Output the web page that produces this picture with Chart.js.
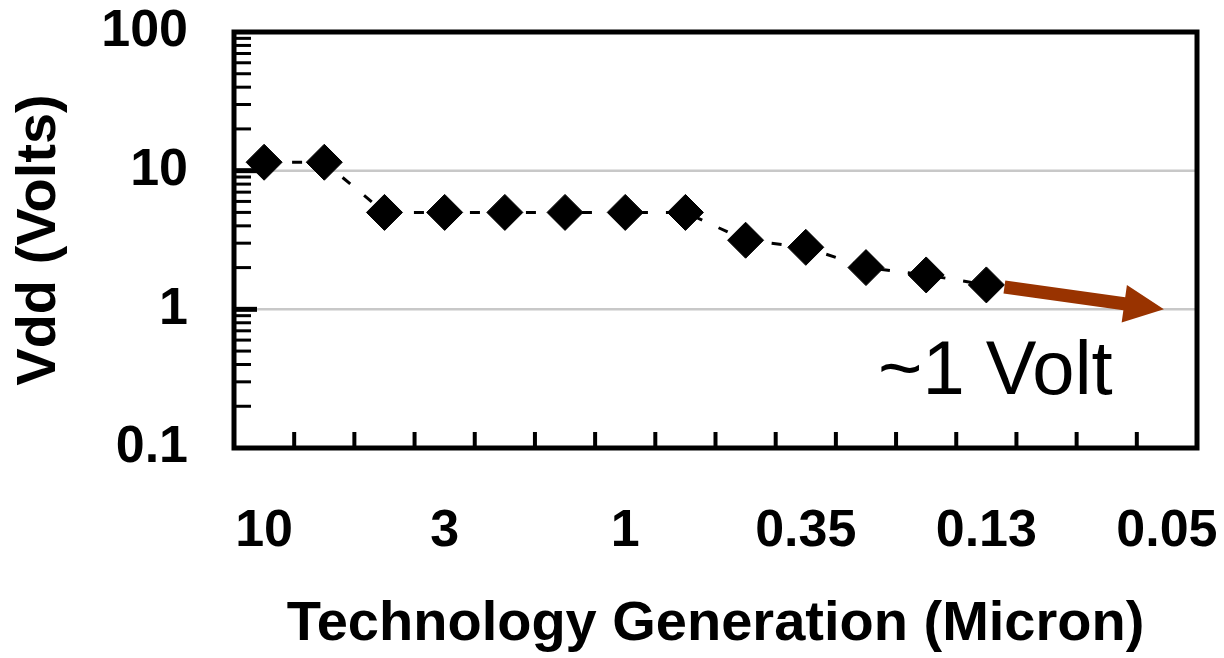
<!DOCTYPE html>
<html><head><meta charset="utf-8">
<script src="https://cdn.jsdelivr.net/npm/chart.js@4.4.1/dist/chart.umd.min.js"></script>
<style>html,body{margin:0;padding:0;background:#fff}</style>
</head><body>
<canvas id="c" width="1224" height="658"></canvas>
<script>
// Technology generation categories (only every third one is labelled on the axis)
const categories = ['10','','','3','','','1','','','0.35','','','0.13','','','0.05'];
// Supply voltage Vdd (Volts) per generation
const vdd = [11.5, 11.5, 5, 5, 5, 5, 5, 5, 3.15, 2.8, 2.0, 1.77, 1.5, null, null, null];
// Y axis labelled ticks
const yTicks = [0.1, 1, 10, 100];
// Trend arrow (category index, value) and note
const arrowFrom = [12.3, 1.45];
const arrowTo = [14.95, 1.0];
const noteText = '~1 Volt';
const notePos = [12.15, 0.35];

const FONT = '"Liberation Sans", Arial, Helvetica, sans-serif';
Chart.defaults.font.family = FONT;

function noPad(s) { s.paddingLeft = 0; s.paddingRight = 0; s.paddingTop = 0; s.paddingBottom = 0; }

const decor = {
  id: 'decor',
  beforeDatasetsDraw(chart) {
    const ctx = chart.ctx, ca = chart.chartArea;
    const xs = chart.scales.x, ys = chart.scales.y;
    ctx.save();
    ctx.strokeStyle = '#c8c8c8';
    ctx.lineWidth = 2.5;
    [1, 10].forEach(v => {
      const y = ys.getPixelForValue(v);
      ctx.beginPath(); ctx.moveTo(ca.left, y); ctx.lineTo(ca.right, y); ctx.stroke();
    });
    ctx.strokeStyle = '#000';
    [0.1, 1, 10].forEach(d => {
      for (let k = 2; k <= 9; k++) {
        const y = ys.getPixelForValue(k * d);
        ctx.lineWidth = 3;
        ctx.beginPath(); ctx.moveTo(ca.left, y); ctx.lineTo(ca.left + 17, y); ctx.stroke();
      }
    });
    [1, 10].forEach(v => {
      const y = ys.getPixelForValue(v);
      ctx.lineWidth = 5;
      ctx.beginPath(); ctx.moveTo(ca.left, y); ctx.lineTo(ca.left + 23, y); ctx.stroke();
    });
    ctx.lineWidth = 4;
    for (let i = 0; i < categories.length - 1; i++) {
      const x = (xs.getPixelForValue(i) + xs.getPixelForValue(i + 1)) / 2;
      ctx.beginPath(); ctx.moveTo(x, ca.bottom); ctx.lineTo(x, ca.bottom - 16); ctx.stroke();
    }
    ctx.lineWidth = 5;
    ctx.strokeRect(ca.left, ca.top, ca.right - ca.left, ca.bottom - ca.top);
    ctx.restore();
  },
  afterDatasetsDraw(chart) {
    const ctx = chart.ctx;
    const xs = chart.scales.x, ys = chart.scales.y;
    ctx.save();
    const x0 = xs.getPixelForValue(arrowFrom[0]), y0 = ys.getPixelForValue(arrowFrom[1]);
    const x1 = xs.getPixelForValue(arrowTo[0]), y1 = ys.getPixelForValue(arrowTo[1]);
    const ang = Math.atan2(y1 - y0, x1 - x0);
    const len = Math.hypot(x1 - x0, y1 - y0);
    ctx.translate(x0, y0); ctx.rotate(ang);
    const sw = 6.5, hl = 40, hw = 19;
    ctx.fillStyle = '#993300';
    ctx.beginPath();
    ctx.moveTo(0, -sw); ctx.lineTo(len - hl, -sw); ctx.lineTo(len - hl, -hw);
    ctx.lineTo(len, 0); ctx.lineTo(len - hl, hw); ctx.lineTo(len - hl, sw);
    ctx.lineTo(0, sw); ctx.closePath(); ctx.fill();
    ctx.restore();
    ctx.save();
    ctx.fillStyle = '#000';
    ctx.font = '76px ' + FONT;
    ctx.textAlign = 'center'; ctx.textBaseline = 'middle';
    ctx.fillText(noteText, xs.getPixelForValue(notePos[0]), ys.getPixelForValue(notePos[1]));
    ctx.restore();
  }
};

new Chart(document.getElementById('c'), {
  type: 'line',
  data: {
    labels: categories,
    datasets: [{
      data: vdd,
      borderColor: '#000', borderWidth: 3, borderDash: [10, 18],
      pointStyle: 'rectRot', pointRadius: 18, pointHoverRadius: 18,
      pointBackgroundColor: '#000', pointBorderColor: '#000', pointBorderWidth: 1,
      fill: false, tension: 0, spanGaps: false
    }]
  },
  options: {
    responsive: false, animation: false, devicePixelRatio: 1,
    layout: { padding: { left: 6, top: 32, right: 27, bottom: 0 } },
    plugins: { legend: { display: false }, tooltip: { enabled: false } },
    events: [],
    scales: {
      x: {
        type: 'category', offset: true,
        grid: { display: false, drawTicks: false }, border: { display: false },
        ticks: { autoSkip: false, maxRotation: 0, minRotation: 0, color: '#000', padding: 52,
                 font: { size: 52, weight: 'bold' } },
        title: { display: true, text: 'Technology Generation (Micron)', color: '#000', padding: 0,
                 font: { size: 56, weight: 'bold' } },
        afterFit(s) { s.height = 210; noPad(s); }
      },
      y: {
        type: 'logarithmic', min: 0.1, max: 100,
        grid: { display: false, drawTicks: false }, border: { display: false },
        afterBuildTicks(s) { s.ticks = yTicks.map(v => ({ value: v })); },
        ticks: { color: '#000', padding: 46, font: { size: 52, weight: 'bold' },
                 callback(v) { return yTicks.includes(v) ? String(v) : ''; } },
        title: { display: true, text: 'Vdd (Volts)', color: '#000', padding: 0,
                 font: { size: 56, weight: 'bold' } },
        afterFit(s) { s.width = 228; noPad(s); }
      }
    }
  },
  plugins: [decor]
});
</script>
</body></html>
